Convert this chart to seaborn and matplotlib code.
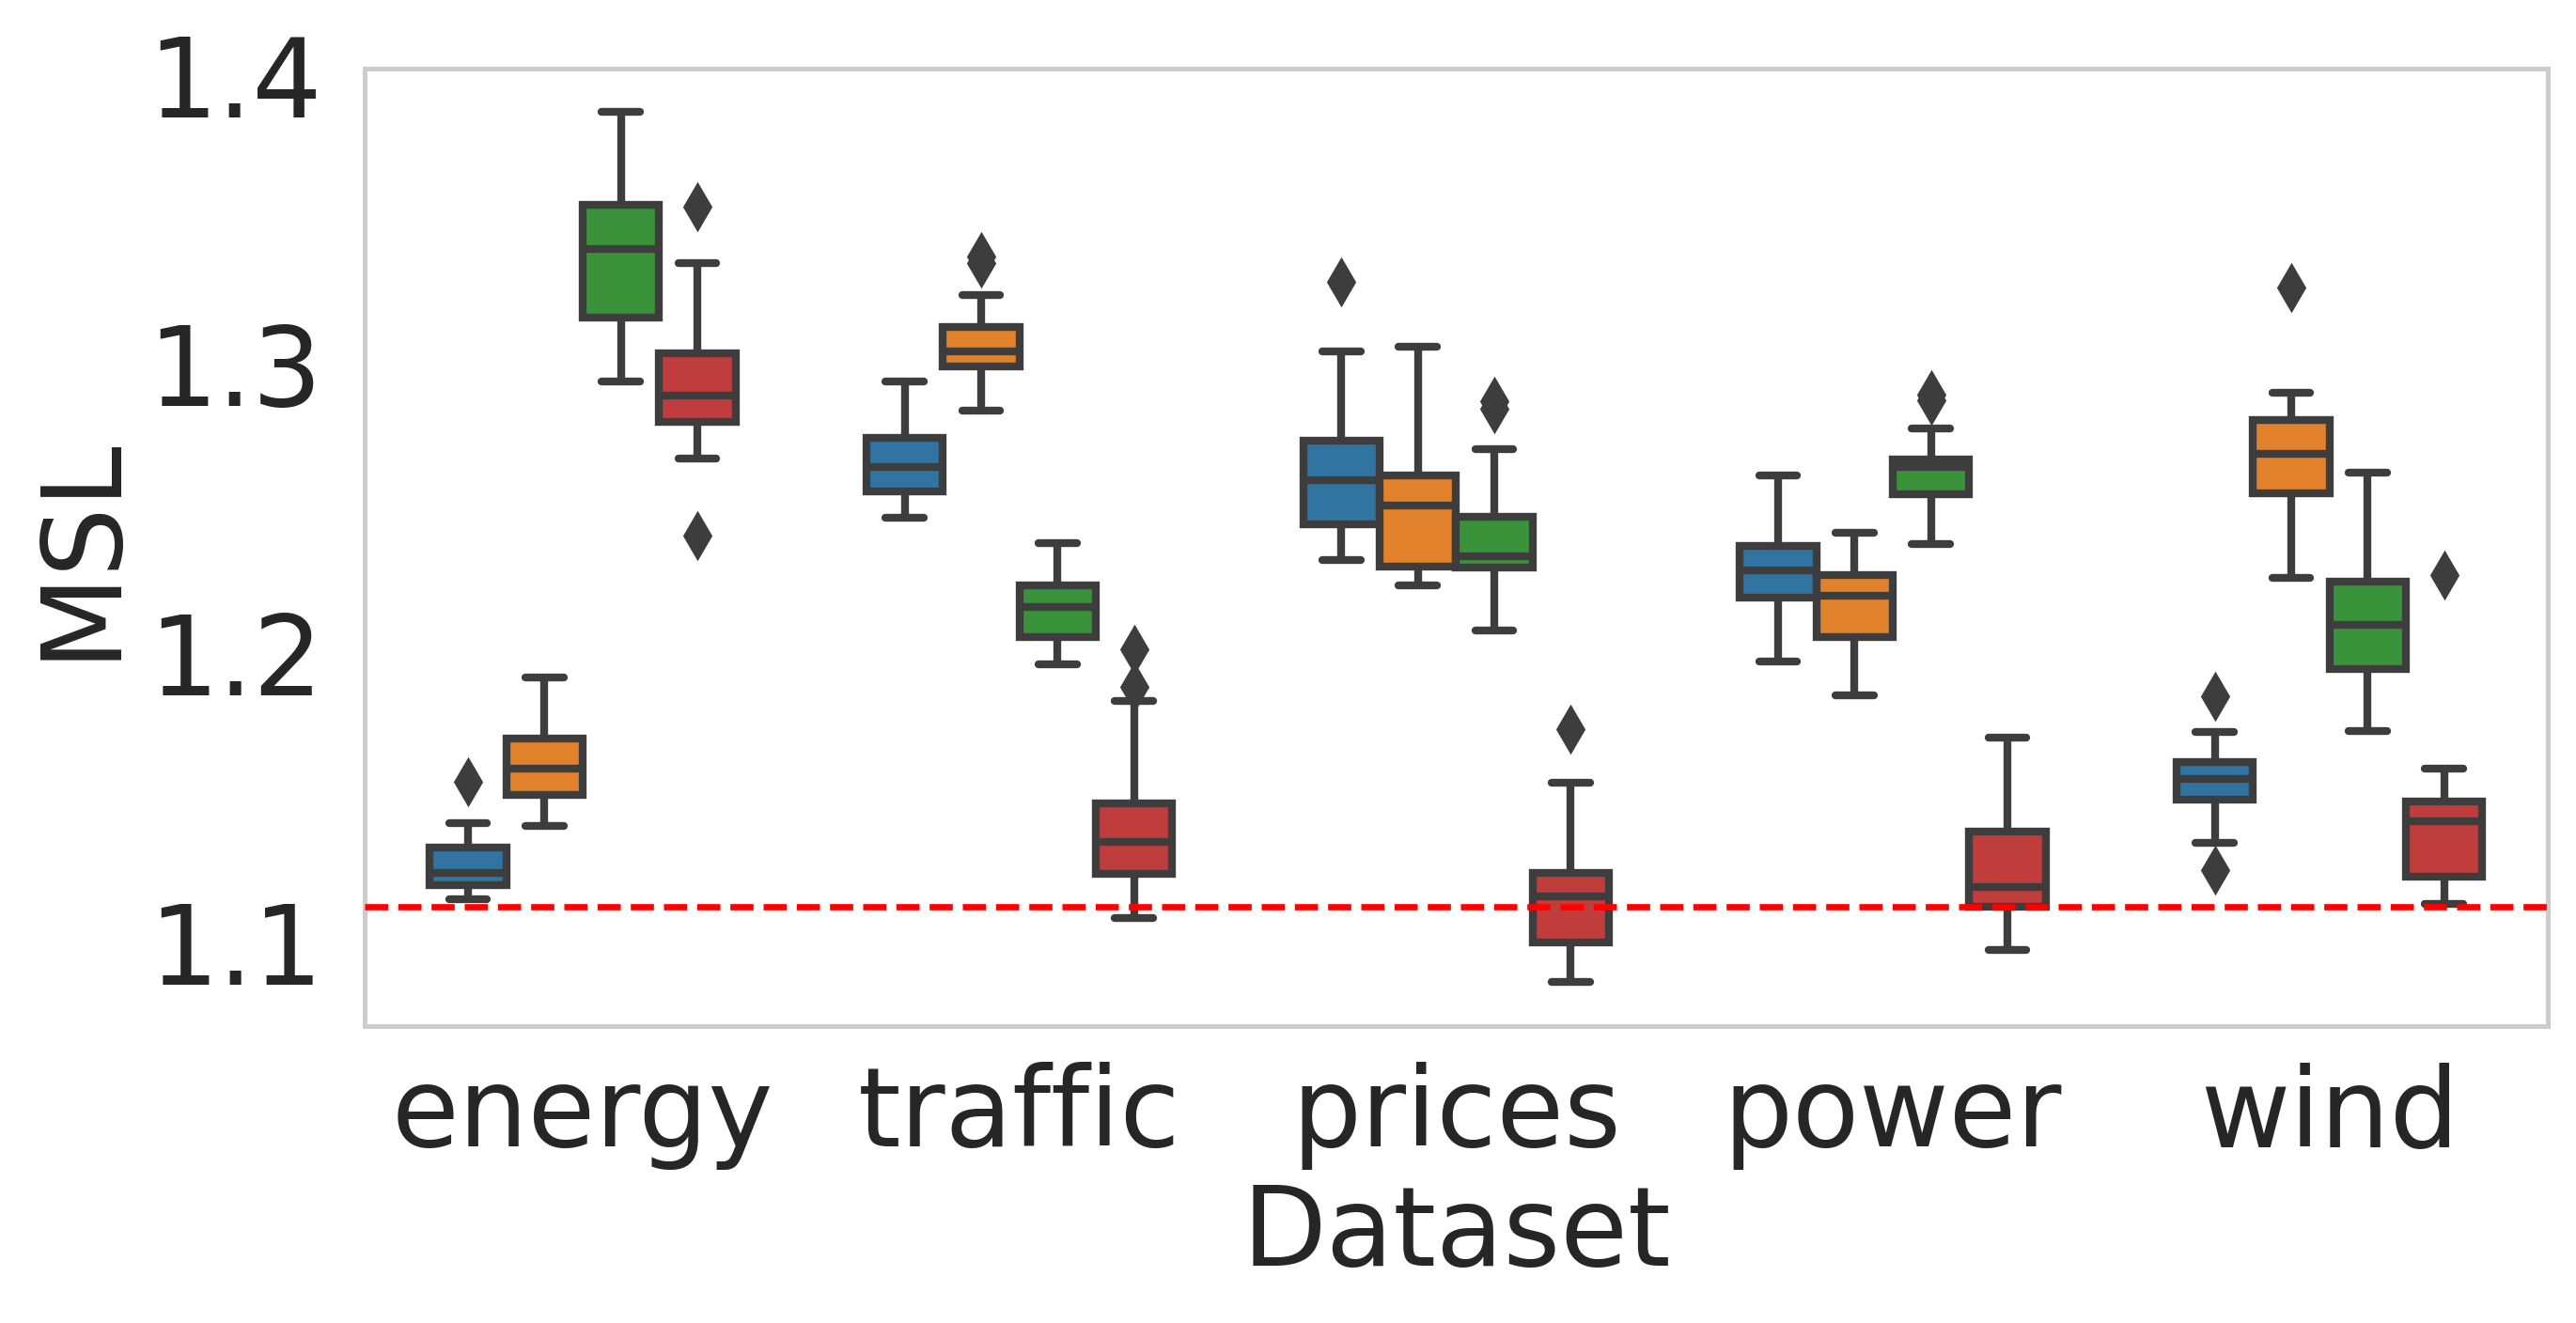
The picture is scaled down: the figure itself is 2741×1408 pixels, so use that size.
import matplotlib
matplotlib.use("Agg")
import matplotlib.pyplot as plt
import seaborn as sns
import pandas as pd

# ---- data ----
datasets = ["energy", "traffic", "prices", "power", "wind"]
methods = ["M1", "M2", "M3", "M4"]

energy_m1 = [1.1149, 1.1170, 1.1198, 1.1220, 1.1241, 1.1290, 1.1326, 1.1412, 1.1554]
energy_m2 = [1.1403, 1.1511, 1.1602, 1.1703, 1.1915]
energy_m3 = [1.2940, 1.3160, 1.3399, 1.3550, 1.3872]
energy_m4 = [1.2407, 1.2674, 1.2799, 1.2850, 1.2890, 1.2960, 1.3037, 1.3350, 1.3544]

traffic_m1 = [1.2468, 1.2558, 1.2644, 1.2744, 1.2938]
traffic_m2 = [1.2838, 1.2900, 1.2960, 1.2991, 1.3010, 1.3030, 1.3042, 1.3080, 1.3110, 1.3129, 1.3238, 1.3350, 1.3372]
traffic_m3 = [1.1961, 1.2057, 1.2161, 1.2234, 1.2382]
traffic_m4 = [1.1083, 1.1150, 1.1200, 1.1235, 1.1280, 1.1320, 1.1348, 1.1390, 1.1440, 1.1481, 1.1836, 1.1883, 1.2012]

prices_m1 = [1.2323, 1.2390, 1.2445, 1.2520, 1.2598, 1.2670, 1.2734, 1.3044, 1.3285]
prices_m2 = [1.2235, 1.2298, 1.2510, 1.2614, 1.3061]
prices_m3 = [1.2078, 1.2180, 1.2260, 1.2295, 1.2310, 1.2325, 1.2335, 1.2380, 1.2430, 1.2472, 1.2706, 1.2844, 1.2870]
prices_m4 = [1.0863, 1.0940, 1.1000, 1.1080, 1.1157, 1.1200, 1.1241, 1.1551, 1.1737]

power_m1 = [1.1971, 1.2192, 1.2286, 1.2372, 1.2615]
power_m2 = [1.1854, 1.2054, 1.2199, 1.2269, 1.2417]
power_m3 = [1.2378, 1.2450, 1.2510, 1.2548, 1.2590, 1.2620, 1.2644, 1.2655, 1.2662, 1.2670, 1.2777, 1.2875, 1.2895]
power_m4 = [1.0973, 1.1123, 1.1192, 1.1383, 1.1708]

wind_m1 = [1.1250, 1.1343, 1.1493, 1.1530, 1.1565, 1.1600, 1.1624, 1.1727, 1.1851]
wind_m2 = [1.2259, 1.2450, 1.2553, 1.2620, 1.2689, 1.2750, 1.2805, 1.2901, 1.3266]
wind_m3 = [1.1730, 1.1946, 1.2099, 1.2247, 1.2624]
wind_m4 = [1.1131, 1.1180, 1.1226, 1.1350, 1.1419, 1.1450, 1.1486, 1.1600, 1.2269]

baseline_value = 1.1123

samples = {
    "energy": [energy_m1, energy_m2, energy_m3, energy_m4],
    "traffic": [traffic_m1, traffic_m2, traffic_m3, traffic_m4],
    "prices": [prices_m1, prices_m2, prices_m3, prices_m4],
    "power": [power_m1, power_m2, power_m3, power_m4],
    "wind": [wind_m1, wind_m2, wind_m3, wind_m4],
}

rows = []
for ds in datasets:
    for m, vals in zip(methods, samples[ds]):
        for v in vals:
            rows.append({"Dataset": ds, "Method": m, "MSL": v})
df = pd.DataFrame(rows)

# ---- style ----
sns.set_theme(style="whitegrid")
plt.rcParams["font.family"] = ["DejaVu Sans"]
FS = 42

fig = plt.figure(figsize=(13.705, 7.04), dpi=200)
ax = fig.add_axes([0.1414, 0.2244, 0.9891 - 0.1414, 0.948 - 0.2244])

line_c = "#3d3d3d"
sns.boxplot(
    data=df, x="Dataset", y="MSL", hue="Method", order=datasets, hue_order=methods,
    palette="tab10", width=0.7, gap=0, linewidth=3, linecolor=line_c,
    legend=False, ax=ax, saturation=0.75,
    flierprops=dict(marker="d", markersize=12, markerfacecolor=line_c,
                    markeredgecolor=line_c, markeredgewidth=1),
    capprops=dict(solid_capstyle="round"),
)

ax.axhline(baseline_value, color="red", linestyle="--", linewidth=2.4, zorder=5)

ax.set_xlim(-0.5, 4.5)
ax.set_ylim(1.0710, 1.4021)
ax.set_yticks([1.1, 1.2, 1.3, 1.4])
ax.grid(False)
for sp in ax.spines.values():
    sp.set_color("#cccccc")
    sp.set_linewidth(1.8)

ax.tick_params(axis="both", labelsize=FS, length=0, colors="#262626")
ax.tick_params(axis="y", pad=16)
ax.tick_params(axis="x", pad=13.5)
ax.set_xlabel("Dataset", fontsize=FS, color="#262626", labelpad=4.5)
ax.set_ylabel("MSL", fontsize=FS, color="#262626", labelpad=5)

fig.savefig("out.png", dpi=200)
